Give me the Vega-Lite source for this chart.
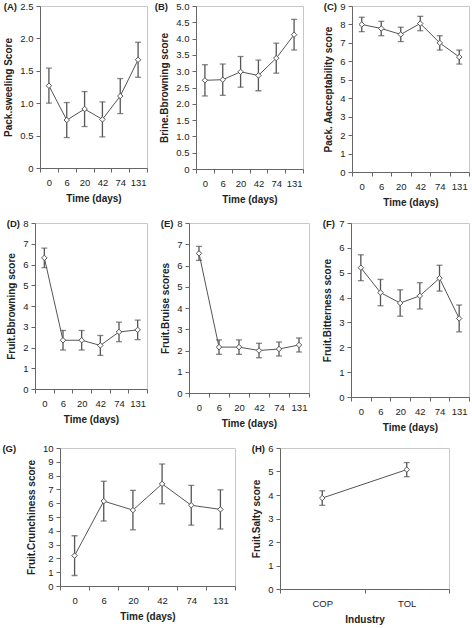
{
  "$schema": "https://vega.github.io/schema/vega-lite/v6.json",
  "background": "white",
  "padding": {"left": 0, "top": 0, "right": 0, "bottom": 0},
  "spacing": 9,
  "data": {
    "values": [
      {"p": "A", "t": "0", "m": 1.27, "e": 0.27},
      {"p": "A", "t": "6", "m": 0.74, "e": 0.27},
      {"p": "A", "t": "20", "m": 0.91, "e": 0.27},
      {"p": "A", "t": "42", "m": 0.75, "e": 0.27},
      {"p": "A", "t": "74", "m": 1.11, "e": 0.27},
      {"p": "A", "t": "131", "m": 1.67, "e": 0.27},
      {"p": "B", "t": "0", "m": 2.72, "e": 0.48},
      {"p": "B", "t": "6", "m": 2.74, "e": 0.48},
      {"p": "B", "t": "20", "m": 2.98, "e": 0.47},
      {"p": "B", "t": "42", "m": 2.87, "e": 0.47},
      {"p": "B", "t": "74", "m": 3.4, "e": 0.46},
      {"p": "B", "t": "131", "m": 4.12, "e": 0.47},
      {"p": "C", "t": "0", "m": 8.0, "e": 0.39},
      {"p": "C", "t": "6", "m": 7.78, "e": 0.39},
      {"p": "C", "t": "20", "m": 7.46, "e": 0.39},
      {"p": "C", "t": "42", "m": 8.05, "e": 0.39},
      {"p": "C", "t": "74", "m": 7.0, "e": 0.39},
      {"p": "C", "t": "131", "m": 6.23, "e": 0.38},
      {"p": "D", "t": "0", "m": 6.32, "e": 0.47},
      {"p": "D", "t": "6", "m": 2.35, "e": 0.47},
      {"p": "D", "t": "20", "m": 2.35, "e": 0.47},
      {"p": "D", "t": "42", "m": 2.1, "e": 0.48},
      {"p": "D", "t": "74", "m": 2.75, "e": 0.47},
      {"p": "D", "t": "131", "m": 2.85, "e": 0.47},
      {"p": "E", "t": "0", "m": 6.57, "e": 0.33},
      {"p": "E", "t": "6", "m": 2.16, "e": 0.34},
      {"p": "E", "t": "20", "m": 2.16, "e": 0.34},
      {"p": "E", "t": "42", "m": 2.0, "e": 0.34},
      {"p": "E", "t": "74", "m": 2.07, "e": 0.33},
      {"p": "E", "t": "131", "m": 2.26, "e": 0.33},
      {"p": "F", "t": "0", "m": 5.2, "e": 0.52},
      {"p": "F", "t": "6", "m": 4.2, "e": 0.53},
      {"p": "F", "t": "20", "m": 3.78, "e": 0.53},
      {"p": "F", "t": "42", "m": 4.07, "e": 0.53},
      {"p": "F", "t": "74", "m": 4.78, "e": 0.52},
      {"p": "F", "t": "131", "m": 3.16, "e": 0.54},
      {"p": "G", "t": "0", "m": 2.2, "e": 1.44},
      {"p": "G", "t": "6", "m": 6.15, "e": 1.44},
      {"p": "G", "t": "20", "m": 5.5, "e": 1.43},
      {"p": "G", "t": "42", "m": 7.4, "e": 1.44},
      {"p": "G", "t": "74", "m": 5.85, "e": 1.44},
      {"p": "G", "t": "131", "m": 5.55, "e": 1.42},
      {"p": "H", "t": "COP", "m": 3.87, "e": 0.31},
      {"p": "H", "t": "TOL", "m": 5.08, "e": 0.3}
    ]
  },
  "config": {
    "font": "Liberation Sans",
    "view": {"stroke": "#c8c8c8", "strokeWidth": 1},
    "axis": {
      "grid": false,
      "labelFont": "Liberation Sans",
      "labelFontSize": 9.5,
      "labelColor": "#222",
      "titleFont": "Liberation Sans",
      "titleFontSize": 10,
      "titleFontWeight": "bold",
      "titleColor": "#222",
      "domainColor": "#666",
      "tickColor": "#666",
      "tickSize": 4,
      "labelPadding": 3
    },
    "axisX": {"labelAngle": 0, "tickBand": "extent", "labelPadding": 5, "titlePadding": 7},
    "axisY": {"titlePadding": 6},
    "title": {"fontSize": 9.5, "fontWeight": "bold", "color": "#222", "anchor": "start", "frame": "bounds", "font": "Liberation Sans", "offset": -10}
  },
  "vconcat": [
    {
      "bounds": "flush",
      "spacing": 0,
      "hconcat": [
        {"width": 40, "height": 1, "view": {"stroke": null}, "transform": [{"filter": "false"}], "mark": "point", "encoding": {}},
        {
          "spacing": 49,
          "bounds": "flush",
          "hconcat": [
            {
              "width": 107, "height": 162,
              "title": {"text": "(A)"},
              "transform": [{"filter": "datum.p == 'A'"}],
              "encoding": {
                "x": {"field": "t", "type": "ordinal", "sort": ["0", "6", "20", "42", "74", "131"], "bandPosition": 0.5, "scale": {"type": "band", "paddingInner": 0, "paddingOuter": 0}, "axis": {"title": "Time (days)"}},
                "y": {"field": "m", "type": "quantitative", "scale": {"domain": [0, 2.5]}, "axis": {"title": "Pack.sweeling Score", "values": [0, 0.5, 1, 1.5, 2, 2.5], "labelExpr": "datum.value == 0 ? '0' : format(datum.value, '.1f')"}}
              },
              "layer": [
                {"mark": {"type": "errorbar", "ticks": {"size": 6}, "color": "#555", "thickness": 1.3}, "encoding": {"yError": {"field": "e"}}},
                {"mark": {"type": "line", "color": "#555", "strokeWidth": 1}, "encoding": {}},
                {"mark": {"type": "point", "shape": "diamond", "filled": true, "fill": "white", "stroke": "#555", "strokeWidth": 1, "size": 30, "opacity": 1}, "encoding": {}}
              ]
            },
            {
              "width": 107, "height": 163,
              "title": {"text": "(B)", "dx": -5},
              "transform": [{"filter": "datum.p == 'B'"}],
              "encoding": {
                "x": {"field": "t", "type": "ordinal", "sort": ["0", "6", "20", "42", "74", "131"], "bandPosition": 0.5, "scale": {"type": "band", "paddingInner": 0, "paddingOuter": 0}, "axis": {"title": "Time (days)"}},
                "y": {"field": "m", "type": "quantitative", "scale": {"domain": [0, 5]}, "axis": {"title": "Brine.Bbrowning score", "values": [0, 0.5, 1, 1.5, 2, 2.5, 3, 3.5, 4, 4.5, 5], "labelExpr": "datum.value == 0 ? '0' : format(datum.value, '.1f')"}}
              },
              "layer": [
                {"mark": {"type": "errorbar", "ticks": {"size": 6}, "color": "#555", "thickness": 1.3}, "encoding": {"yError": {"field": "e"}}},
                {"mark": {"type": "line", "color": "#555", "strokeWidth": 1}, "encoding": {}},
                {"mark": {"type": "point", "shape": "diamond", "filled": true, "fill": "white", "stroke": "#555", "strokeWidth": 1, "size": 30, "opacity": 1}, "encoding": {}}
              ]
            },
            {
              "width": 117, "height": 166,
              "title": {"text": "(C)"},
              "transform": [{"filter": "datum.p == 'C'"}],
              "encoding": {
                "x": {"field": "t", "type": "ordinal", "sort": ["0", "6", "20", "42", "74", "131"], "bandPosition": 0.5, "scale": {"type": "band", "paddingInner": 0, "paddingOuter": 0}, "axis": {"title": "Time (days)"}},
                "y": {"field": "m", "type": "quantitative", "scale": {"domain": [0, 9]}, "axis": {"title": "Pack. Aacceptability score", "values": [0, 1, 2, 3, 4, 5, 6, 7, 8, 9]}}
              },
              "layer": [
                {"mark": {"type": "errorbar", "ticks": {"size": 6}, "color": "#555", "thickness": 1.3}, "encoding": {"yError": {"field": "e"}}},
                {"mark": {"type": "line", "color": "#555", "strokeWidth": 1}, "encoding": {}},
                {"mark": {"type": "point", "shape": "diamond", "filled": true, "fill": "white", "stroke": "#555", "strokeWidth": 1, "size": 30, "opacity": 1}, "encoding": {}}
              ]
            }
          ]
        }
      ]
    },
    {
      "bounds": "flush",
      "spacing": 0,
      "hconcat": [
        {"width": 35, "height": 1, "view": {"stroke": null}, "transform": [{"filter": "false"}], "mark": "point", "encoding": {}},
        {
          "spacing": 42,
          "bounds": "flush",
          "hconcat": [
            {
              "width": 112, "height": 166,
              "title": {"text": "(D)"},
              "transform": [{"filter": "datum.p == 'D'"}],
              "encoding": {
                "x": {"field": "t", "type": "ordinal", "sort": ["0", "6", "20", "42", "74", "131"], "bandPosition": 0.5, "scale": {"type": "band", "paddingInner": 0, "paddingOuter": 0}, "axis": {"title": "Time (days)"}},
                "y": {"field": "m", "type": "quantitative", "scale": {"domain": [0, 8]}, "axis": {"title": "Fruit.Bbrowning score", "values": [0, 1, 2, 3, 4, 5, 6, 7, 8]}}
              },
              "layer": [
                {"mark": {"type": "errorbar", "ticks": {"size": 6}, "color": "#555", "thickness": 1.3}, "encoding": {"yError": {"field": "e"}}},
                {"mark": {"type": "line", "color": "#555", "strokeWidth": 1}, "encoding": {}},
                {"mark": {"type": "point", "shape": "diamond", "filled": true, "fill": "white", "stroke": "#555", "strokeWidth": 1, "size": 30, "opacity": 1}, "encoding": {}}
              ]
            },
            {
              "width": 120, "height": 170,
              "title": {"text": "(E)"},
              "transform": [{"filter": "datum.p == 'E'"}],
              "encoding": {
                "x": {"field": "t", "type": "ordinal", "sort": ["0", "6", "20", "42", "74", "131"], "bandPosition": 0.5, "scale": {"type": "band", "paddingInner": 0, "paddingOuter": 0}, "axis": {"title": "Time (days)"}},
                "y": {"field": "m", "type": "quantitative", "scale": {"domain": [0, 8]}, "axis": {"title": "Fruit.Bruise scores", "values": [0, 1, 2, 3, 4, 5, 6, 7, 8]}}
              },
              "layer": [
                {"mark": {"type": "errorbar", "ticks": {"size": 6}, "color": "#555", "thickness": 1.3}, "encoding": {"yError": {"field": "e"}}},
                {"mark": {"type": "line", "color": "#555", "strokeWidth": 1}, "encoding": {}},
                {"mark": {"type": "point", "shape": "diamond", "filled": true, "fill": "white", "stroke": "#555", "strokeWidth": 1, "size": 30, "opacity": 1}, "encoding": {}}
              ]
            },
            {
              "width": 118, "height": 174,
              "title": {"text": "(F)"},
              "transform": [{"filter": "datum.p == 'F'"}],
              "encoding": {
                "x": {"field": "t", "type": "ordinal", "sort": ["0", "6", "20", "42", "74", "131"], "bandPosition": 0.5, "scale": {"type": "band", "paddingInner": 0, "paddingOuter": 0}, "axis": {"title": "Time (days)"}},
                "y": {"field": "m", "type": "quantitative", "scale": {"domain": [0, 7]}, "axis": {"title": "Fruit.Bitterness score", "values": [0, 1, 2, 3, 4, 5, 6, 7]}}
              },
              "layer": [
                {"mark": {"type": "errorbar", "ticks": {"size": 6}, "color": "#555", "thickness": 1.3}, "encoding": {"yError": {"field": "e"}}},
                {"mark": {"type": "line", "color": "#555", "strokeWidth": 1}, "encoding": {}},
                {"mark": {"type": "point", "shape": "diamond", "filled": true, "fill": "white", "stroke": "#555", "strokeWidth": 1, "size": 30, "opacity": 1}, "encoding": {}}
              ]
            }
          ]
        }
      ]
    },
    {
      "bounds": "flush",
      "spacing": 0,
      "hconcat": [
        {"width": 60, "height": 1, "view": {"stroke": null}, "transform": [{"filter": "false"}], "mark": "point", "encoding": {}},
        {
          "spacing": 45,
          "bounds": "flush",
          "hconcat": [
            {
              "width": 175, "height": 138,
              "title": {"text": "(G)", "dx": -24},
              "transform": [{"filter": "datum.p == 'G'"}],
              "encoding": {
                "x": {"field": "t", "type": "ordinal", "sort": ["0", "6", "20", "42", "74", "131"], "bandPosition": 0.5, "scale": {"type": "band", "paddingInner": 0, "paddingOuter": 0}, "axis": {"title": "Time (days)"}},
                "y": {"field": "m", "type": "quantitative", "scale": {"domain": [0, 10]}, "axis": {"title": "Fruit.Crunchiness score", "values": [0, 1, 2, 3, 4, 5, 6, 7, 8, 9, 10]}}
              },
              "layer": [
                {"mark": {"type": "errorbar", "ticks": {"size": 6}, "color": "#555", "thickness": 1.3}, "encoding": {"yError": {"field": "e"}}},
                {"mark": {"type": "line", "color": "#555", "strokeWidth": 1}, "encoding": {}},
                {"mark": {"type": "point", "shape": "diamond", "filled": true, "fill": "white", "stroke": "#555", "strokeWidth": 1, "size": 30, "opacity": 1}, "encoding": {}}
              ]
            },
            {
              "width": 169, "height": 141,
              "title": {"text": "(H)"},
              "transform": [{"filter": "datum.p == 'H'"}],
              "encoding": {
                "x": {"field": "t", "type": "ordinal", "sort": ["COP", "TOL"], "bandPosition": 0.5, "scale": {"type": "band", "paddingInner": 0, "paddingOuter": 0}, "axis": {"title": "Industry"}},
                "y": {"field": "m", "type": "quantitative", "scale": {"domain": [0, 6]}, "axis": {"title": "Fruit.Salty score", "values": [0, 1, 2, 3, 4, 5, 6]}}
              },
              "layer": [
                {"mark": {"type": "errorbar", "ticks": {"size": 6}, "color": "#555", "thickness": 1.3}, "encoding": {"yError": {"field": "e"}}},
                {"mark": {"type": "line", "color": "#555", "strokeWidth": 1}, "encoding": {}},
                {"mark": {"type": "point", "shape": "diamond", "filled": true, "fill": "white", "stroke": "#555", "strokeWidth": 1, "size": 30, "opacity": 1}, "encoding": {}}
              ]
            }
          ]
        }
      ]
    }
  ]
}
